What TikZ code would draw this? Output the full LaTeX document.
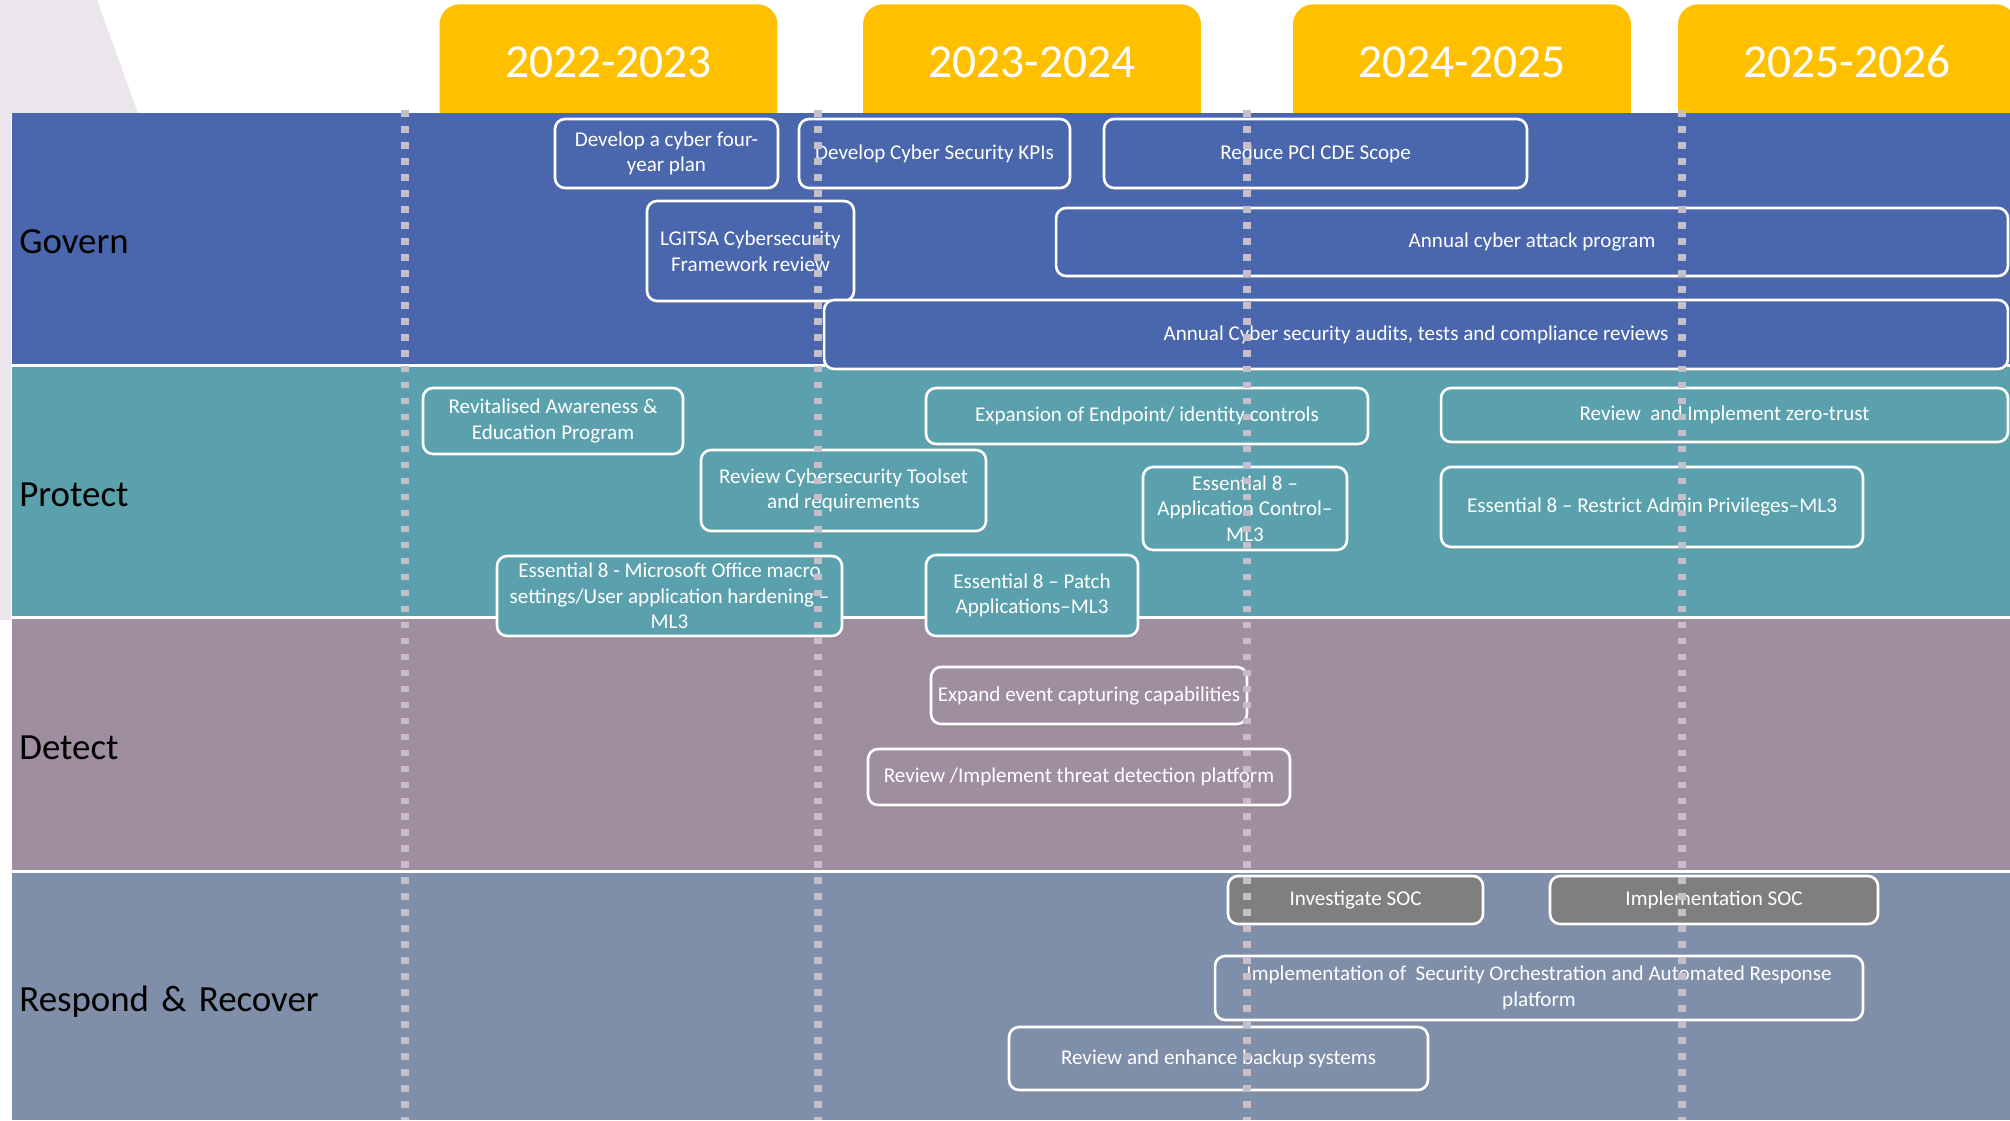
\documentclass[tikz,border=0pt]{standalone}
\usepackage{fontspec}
\setmainfont{Carlito}
\usepackage{tikz}
\usetikzlibrary{shadows}

\definecolor{govern}{HTML}{4A66AC}
\definecolor{protect}{HTML}{5AA1AD}
\definecolor{detect}{HTML}{9E8E9F}
\definecolor{respond}{HTML}{7F8EA9}
\definecolor{socgray}{HTML}{7F7F7F}
\definecolor{yeargold}{HTML}{FFC000}
\definecolor{backshade}{HTML}{EAE6EC}
\definecolor{divider}{HTML}{C6BEC9}

\tikzset{
  yearbox/.style={fill=yeargold, rounded corners=0.4cm, text=white,
    font=\fontsize{27}{30}\selectfont, anchor=north, inner sep=0pt,
    minimum width=6.76cm, text height=1.47cm, text depth=1.25cm},
  band/.style={anchor=north west, inner xsep=0.14cm, inner ysep=0pt,
    text width=39.68cm, align=left, font=\fontsize{21}{25}\selectfont,
    text height=20.5pt, text depth=4pt},
  task/.style={rounded corners=0.2cm, draw=white, line width=1.5pt,
    text=white, align=center, inner sep=0pt,
    font=\fontsize{12}{14.6}\selectfont,
    drop shadow={opacity=0.3, shadow xshift=0.6pt, shadow yshift=-1.5pt}},
  gridline/.style={draw=divider, line width=4.1pt,
    dash pattern=on 3.8pt off 5.3pt}
}

\begin{document}
\begin{tikzpicture}[x=0.02cm, y=-0.02cm]
\clip (0,0) rectangle (2010,1120);
\fill[white] (0,0) rectangle (2010,1120);
\fill[backshade] (0,0) -- (97,0) -- (138,113) -- (11,113) -- (11,620) -- (0,620) -- cycle;

% years
\node[yearbox] (y22) at (608.5,4) {2022-2023};
\node[yearbox] (y23) at (1032,4) {2023-2024};
\node[yearbox] (y24) at (1462,4) {2024-2025};
\node[yearbox] (y25) at (1847,4) {2025-2026};

% bands
\node[band, fill=govern, minimum height=5.02cm] (govern) at (12,113) {Govern};
\node[band, fill=protect, minimum height=4.98cm] (protect) at (12,367) {Protect};
\node[band, fill=detect, minimum height=5.02cm] (detect) at (12,619) {Detect};
\node[band, fill=respond, minimum height=4.94cm] (respond) at (12,873) {Respond \& Recover};

\begin{scope}[every node/.style={task, fill=govern}]
  \node[minimum width=4.46cm, minimum height=1.38cm] (plan) at (666.5,153.5) {Develop a cyber four-\\year plan};
  \node[minimum width=5.42cm, minimum height=1.38cm] (kpi) at (934.5,153.5) {Develop Cyber Security KPIs};
  \node[minimum width=8.46cm, minimum height=1.38cm] (pci) at (1315.5,153.5) {Reduce PCI CDE Scope};
  \node[minimum width=4.14cm, minimum height=2.0cm] (lgitsa) at (750.5,251) {LGITSA Cybersecurity\\Framework review};
  \node[minimum width=19.04cm, minimum height=1.36cm] (attack) at (1532,242) {Annual cyber attack program};
  \node[minimum width=23.68cm, minimum height=1.38cm] (audit) at (1416,334.5) {Annual Cyber security audits, tests and compliance reviews};
\end{scope}

\begin{scope}[every node/.style={task, fill=protect}]
  \node[minimum width=5.2cm, minimum height=1.32cm] (aware) at (553,421) {Revitalised Awareness \&\\Education Program};
  \node[minimum width=5.7cm, minimum height=1.62cm] (toolset) at (843.5,490.5) {Review Cybersecurity Toolset\\and requirements};
  \node[minimum width=6.9cm, minimum height=1.6cm] (macro) at (669.5,596) {Essential 8 - Microsoft Office macro\\settings/User application hardening –\\ML3};
  \node[minimum width=8.84cm, minimum height=1.12cm] (endpoint) at (1147,416) {Expansion of Endpoint/ identity controls};
  \node[minimum width=4.08cm, minimum height=1.66cm] (appctl) at (1245,508.5) {Essential 8 –\\Application Control–\\ML3};
  \node[minimum width=4.24cm, minimum height=1.62cm] (patch) at (1032,595.5) {Essential 8 – Patch\\Applications–ML3};
  \node[minimum width=11.34cm, minimum height=1.08cm] (zerotrust) at (1724.5,415) {Review\ \ and Implement zero-trust};
  \node[minimum width=8.44cm, minimum height=1.6cm] (admin) at (1652,507) {Essential 8 – Restrict Admin Privileges–ML3};
\end{scope}

\begin{scope}[every node/.style={task, fill=detect}]
  \node[minimum width=6.32cm, minimum height=1.14cm] (events) at (1089,695.5) {Expand event capturing capabilities};
  \node[minimum width=8.44cm, minimum height=1.12cm] (threat) at (1079,777) {Review /Implement threat detection platform};
\end{scope}

\begin{scope}[every node/.style={task, fill=respond}]
  \node[fill=socgray, minimum width=5.1cm, minimum height=0.96cm] (invsoc) at (1355.5,900) {Investigate SOC};
  \node[fill=socgray, minimum width=6.56cm, minimum height=0.96cm] (implsoc) at (1714,900) {Implementation SOC};
  \node[minimum width=12.96cm, minimum height=1.28cm] (soar) at (1539,988) {Implementation of\ \ Security Orchestration and Automated Response\\platform};
  \node[minimum width=8.38cm, minimum height=1.26cm] (backup) at (1218.5,1058.5) {Review and enhance backup systems};
\end{scope}

% year dividers
\foreach \x in {405,818,1247,1682}
  \draw[gridline] (\x,110) -- (\x,1120);

\end{tikzpicture}
\end{document}
